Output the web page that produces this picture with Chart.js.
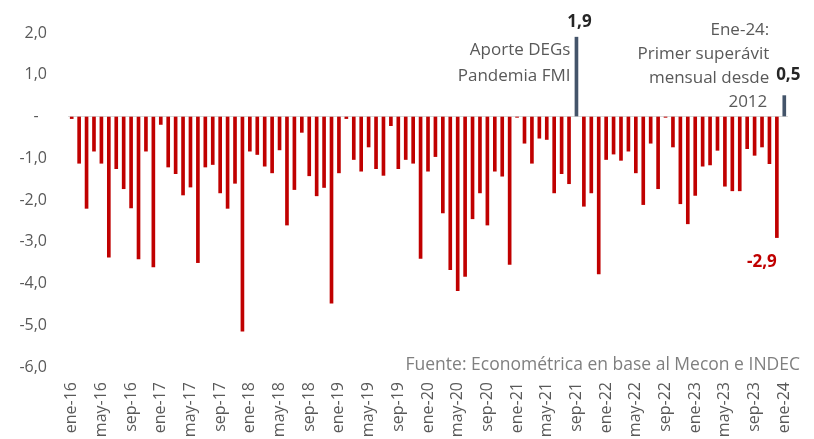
<!DOCTYPE html>
<html>
<head>
<meta charset="utf-8">
<script src="https://cdn.jsdelivr.net/npm/chart.js@4.4.1/dist/chart.umd.min.js"></script>
<style>
  html, body { margin: 0; padding: 0; background: #fff; overflow: hidden; }
  #wrap { width: 814px; height: 439px; }
</style>
</head>
<body>
<div id="wrap"><canvas id="myChart"></canvas></div>
<script>
// monthly primary result, % (ene-16 .. ene-24)
const monthNames = ['ene','feb','mar','abr','may','jun','jul','ago','sep','oct','nov','dic'];
const labels = [];
for (let yr = 16; yr <= 24; yr++) {
  for (let m = 0; m < 12; m++) {
    labels.push(monthNames[m] + '-' + yr);
    if (yr === 24) break;
  }
}

const values2016 = [-0.05, -1.12, -2.2, -0.83, -1.12, -3.37, -1.25, -1.73, -2.19, -3.41, -0.83, -3.6];
const values2017 = [-0.19, -1.21, -1.37, -1.88, -1.69, -3.5, -1.21, -1.15, -1.83, -2.2, -1.6, -5.14];
const values2018 = [-0.83, -0.91, -1.19, -1.35, -0.8, -2.6, -1.75, -0.38, -1.42, -1.9, -1.7, -4.47];
const values2019 = [-1.35, -0.05, -1.03, -1.31, -0.73, -1.25, -1.41, -0.22, -1.25, -1.03, -1.12, -3.4];
const values2020 = [-1.31, -0.96, -2.31, -3.67, -4.17, -3.83, -2.45, -1.83, -2.6, -1.31, -1.43, -3.54];
const values2021 = [-0.02, -0.64, -1.12, -0.52, -0.55, -1.83, -1.37, -1.61, 1.9, -2.15, -1.83, -3.77];
const values2022 = [-1.03, -0.9, -1.05, -0.83, -1.35, -2.11, -0.64, -1.73, -0.02, -0.73, -2.09, -2.57];
const values2023 = [-1.89, -1.19, -1.16, -0.81, -1.67, -1.78, -1.78, -0.77, -0.93, -0.73, -1.13, -2.9];
const values2024 = [0.5];

const values = [].concat(values2016, values2017, values2018, values2019,
  values2020, values2021, values2022, values2023, values2024);

const yTicks = [2, 1, 0, -1, -2, -3, -4, -5, -6];

const red = '#c00000';
const slate = '#44546a';
const gray = '#595959';
const font = "'Open Sans', sans-serif";

const barColors = values.map(v => v > 0 ? slate : red);

const notes = {
  id: 'notes',
  afterDatasetsDraw(chart) {
    const ctx = chart.ctx;
    const meta = chart.getDatasetMeta(0);
    const sep21 = meta.data[68];
    const ene24 = meta.data[96];
    const dic23 = meta.data[95];
    ctx.save();
    ctx.textBaseline = 'middle';

    // value labels
    ctx.font = "bold 17px " + font;
    ctx.fillStyle = '#262626';
    ctx.textAlign = 'center';
    ctx.fillText('1,9', sep21.x + 3, sep21.y - 15);
    ctx.fillText('0,5', ene24.x + 4, ene24.y - 20);
    ctx.fillStyle = red;
    ctx.fillText('-2,9', dic23.x - 15, dic23.y + 25);

    // notes
    ctx.font = "17px " + font;
    ctx.fillStyle = gray;
    ctx.textAlign = 'right';
    ctx.fillText('Aporte DEGs', sep21.x - 6, 50);
    ctx.fillText('Pandemia FMI', sep21.x - 6, 76);
    ctx.fillText('Ene-24:', ene24.x - 15, 30);
    ctx.fillText('Primer superávit', ene24.x - 15, 54);
    ctx.fillText('mensual desde', ene24.x - 15, 78);
    ctx.fillText('2012', ene24.x - 17, 102);

    ctx.fillStyle = '#7f7f7f';
    ctx.font = "17.5px " + font;
    ctx.fillText('Fuente: Econométrica en base al Mecon e INDEC', 800, 365);
    ctx.restore();
  }
};

new Chart(document.getElementById('myChart'), {
  type: 'bar',
  data: {
    labels: labels,
    datasets: [{
      data: values,
      backgroundColor: barColors,
      barThickness: 3
    }]
  },
  options: {
    responsive: true,
    maintainAspectRatio: false,
    animation: false,
    layout: { padding: { top: 33, right: 26, left: 0, bottom: 0 } },
    plugins: { legend: { display: false }, tooltip: { enabled: false } },
    scales: {
      x: {
        grid: { display: false, drawTicks: false },
        border: { display: false },
        ticks: {
          autoSkip: false,
          maxRotation: 90,
          minRotation: 90,
          padding: 15,
          color: gray,
          font: { family: font, size: 16 },
          callback: (v, i) => i % 4 === 0 ? labels[i] : ''
        },
        afterFit: s => { s.height = 72; s.paddingLeft = 0; s.paddingRight = 0; }
      },
      y: {
        min: -6,
        max: 2,
        afterBuildTicks: s => { s.ticks = yTicks.map(v => ({ value: v })); },
        grid: {
          drawTicks: false,
          color: c => c.tick && c.tick.value === 0 ? '#d9d9d9' : 'rgba(0,0,0,0)'
        },
        border: { display: false },
        ticks: {
          padding: 21,
          color: gray,
          font: { family: font, size: 16 },
          callback: v => v === 0 ? '-  ' : v.toFixed(1).replace('.', ',')
        },
        afterFit: s => { s.width = 68; }
      }
    }
  },
  plugins: [notes]
});
</script>
</body>
</html>
